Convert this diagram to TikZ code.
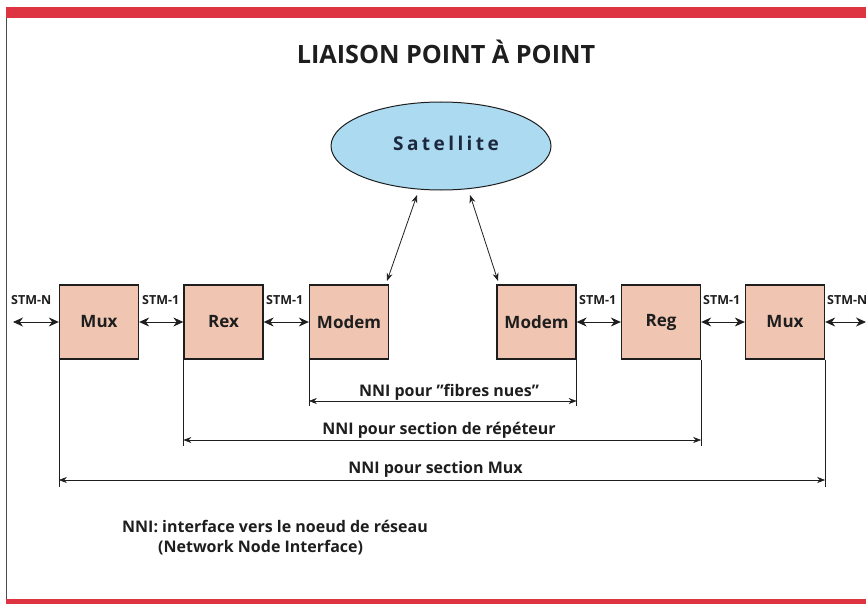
\documentclass[tikz,border=0pt]{standalone}
\usepackage{fontspec}
\setmainfont{Open Sans}[Ligatures=Common]
\usetikzlibrary{arrows.meta,shapes.geometric}
\definecolor{barred}{RGB}{222,52,66}
\definecolor{boxfill}{RGB}{240,198,178}
\definecolor{satfill}{RGB}{172,218,240}
\definecolor{sattext}{RGB}{28,40,62}
\definecolor{ink}{RGB}{30,30,30}
\tikzset{
  unit/.style={draw=ink, line width=1.3pt, fill=boxfill, minimum width=79pt,
    minimum height=74pt, inner sep=0pt, text=ink, font=\bfseries\fontsize{17}{20}\selectfont},
  link/.style={{Stealth[length=10pt,width=9pt]}-{Stealth[length=10pt,width=9pt]}, line width=0.9pt, draw=ink},
  dim/.style={{Stealth[length=8pt,width=6pt]}-{Stealth[length=8pt,width=6pt]}, line width=0.6pt, draw=ink},
  ext/.style={line width=0.6pt, draw=ink},
  stm/.style={font=\bfseries\fontsize{12.5}{15}\selectfont, inner sep=0pt, text=ink},
  dimlabel/.style={font=\bfseries\fontsize{16}{19}\selectfont, inner sep=0pt, text=ink},
}
\begin{document}
\begin{tikzpicture}[x=1pt,y=-1pt]
\useasboundingbox (0,0) rectangle (866,604);
% frame
\fill[barred] (6,7) rectangle (866,18);
\fill[barred] (6,599) rectangle (866,604);
\draw[line width=0.8pt, black!70] (6,18) -- (6,599);
% title
\node[font=\bfseries\fontsize{25.2}{30}\selectfont, text=ink, anchor=base, inner sep=0pt] (title) at (446,64) {LIAISON POINT À POINT};
% satellite
\node[ellipse, draw=ink, line width=1pt, fill=satfill, minimum width=220pt, minimum height=88pt, inner sep=0pt] (sat) at (441,146) {};
\node[font=\bfseries\fontsize{19}{22}\selectfont\addfontfeatures{LetterSpace=18}, text=sattext, anchor=base, inner sep=0pt] (sattxt) at (446,150) {Satellite};
% equipment chain
\node[unit] (mux1) at (99,322) {Mux};
\node[unit] (rex) at (223.5,322) {Rex};
\node[unit] (mod1) at (349,322) {Modem};
\node[unit] (mod2) at (536.5,322) {Modem};
\node[unit] (reg) at (661,322) {Reg};
\node[unit] (mux2) at (785,322) {Mux};
\coordinate (inL) at (13,322);
\coordinate (outR) at (866,322);
\draw[link] (inL) -- (mux1.west);
\draw[link] (mux1.east) -- (rex.west);
\draw[link] (rex.east) -- (mod1.west);
\draw[link] (mod2.east) -- (reg.west);
\draw[link] (reg.east) -- (mux2.west);
\draw[link] (mux2.east) -- (outR);
% interface labels
\node[stm, anchor=base west] (s0) at (11,304) {STM-N};
\node[stm, anchor=base west] (s1) at (142,304) {STM-1};
\node[stm, anchor=base west] (s2) at (266,304) {STM-1};
\node[stm, anchor=base west] (s3) at (579,304) {STM-1};
\node[stm, anchor=base west] (s4) at (703,304) {STM-1};
\node[stm, anchor=base west] (s5) at (827,304) {STM-N};
% satellite links
\coordinate (sa) at (417,195);
\coordinate (sb) at (470,195);
\coordinate (ma) at (387,281);
\coordinate (mb) at (498,281);
\draw[dim, line width=0.8pt] (sa) -- (ma);
\draw[dim, line width=0.8pt] (sb) -- (mb);
% extension lines
\coordinate (e1) at (mux1.south west |- 0,487);
\coordinate (e2) at (rex.south west |- 0,446);
\coordinate (e3) at (mod1.south west |- 0,406);
\coordinate (e4) at (mod2.south east |- 0,406);
\coordinate (e5) at (reg.south east |- 0,446);
\coordinate (e6) at (mux2.south east |- 0,487);
\draw[ext] (mux1.south west) -- (e1);
\draw[ext] (rex.south west) -- (e2);
\draw[ext] (mod1.south west) -- (e3);
\draw[ext] (mod2.south east) -- (e4);
\draw[ext] (reg.south east) -- (e5);
\draw[ext] (mux2.south east) -- (e6);
% dimension arrows
\coordinate (d3) at (mod1.south west |- 0,401);
\coordinate (d4) at (mod2.south east |- 0,401);
\coordinate (d2) at (rex.south west |- 0,440);
\coordinate (d5) at (reg.south east |- 0,440);
\coordinate (d1) at (mux1.south west |- 0,480);
\coordinate (d6) at (mux2.south east |- 0,480);
\draw[dim] (d3) -- (d4);
\draw[dim] (d2) -- (d5);
\draw[dim] (d1) -- (d6);
\node[dimlabel, anchor=base] (l1) at (449,396) {NNI pour "fibres nues"};
\node[dimlabel, anchor=base] (l2) at (439,434) {NNI pour section de répéteur};
\node[dimlabel, anchor=base] (l3) at (435.5,473) {NNI pour section Mux};
% footnote
\node[dimlabel, anchor=base west] (n1) at (122,532) {NNI: interface vers le noeud de réseau};
\node[dimlabel, anchor=base west] (n2) at (158,552) {(Network Node Interface)};
\end{tikzpicture}
\end{document}
